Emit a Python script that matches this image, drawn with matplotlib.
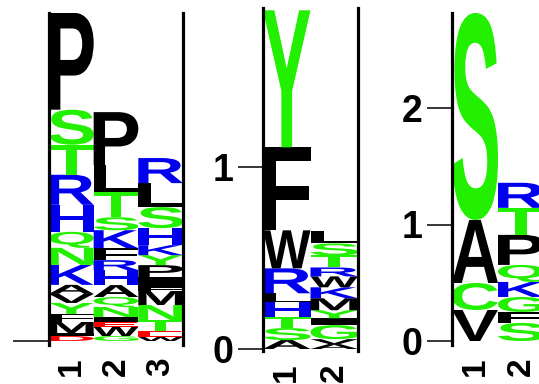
import matplotlib
matplotlib.use("Agg")
import matplotlib.pyplot as plt
from matplotlib.textpath import TextPath
from matplotlib.patches import PathPatch
from matplotlib.transforms import Affine2D
from matplotlib.font_manager import FontProperties

plt.rcParams['font.family'] = ['Liberation Sans', 'DejaVu Sans']
plt.rcParams['font.weight'] = 'bold'

# ---- data: letters (bottom -> top) and their heights, per position ----
p1_positions = ['1', '2', '3']
p1_letters = [
    ['D', 'I', 'M', 'F', 'Y', 'V', 'A', 'K', 'N', 'Q', 'H', 'R', 'T', 'S', 'P'],
    ['G', 'W', 'E', 'I', 'N', 'Q', 'A', 'H', 'R', 'F', 'K', 'S', 'T', 'L', 'P'],
    ['W', 'E', 'T', 'N', 'M', 'F', 'I', 'P', 'Y', 'K', 'H', 'S', 'L', 'R'],
]
p1_heights = [
    [0.043, 0.026, 0.095, 0.069, 0.095, 0.078, 0.078, 0.172, 0.147, 0.138, 0.233, 0.259, 0.259, 0.302, 0.836],
    [0.043, 0.078, 0.043, 0.043, 0.086, 0.086, 0.103, 0.129, 0.086, 0.103, 0.155, 0.112, 0.216, 0.233, 0.457],
    [0.034, 0.052, 0.095, 0.129, 0.121, 0.034, 0.086, 0.103, 0.086, 0.086, 0.147, 0.181, 0.207, 0.216],
]

p2_positions = ['1', '2']
p2_letters = [
    ['A', 'S', 'T', 'H', 'L', 'R', 'W', 'F', 'Y'],
    ['A', 'V', 'G', 'I', 'Y', 'M', 'K', 'W', 'R', 'T', 'S', 'L'],
]
p2_heights = [
    [0.049, 0.066, 0.060, 0.082, 0.049, 0.137, 0.209, 0.456, 0.753],
    [0.027, 0.027, 0.077, 0.038, 0.044, 0.066, 0.060, 0.060, 0.049, 0.066, 0.066, 0.071],
]

p3_positions = ['1', '2']
p3_letters = [
    ['V', 'C', 'A', 'S'],
    ['S', 'F', 'G', 'K', 'Q', 'P', 'T', 'R'],
]
p3_heights = [
    [0.266, 0.232, 0.541, 1.777],
    [0.155, 0.094, 0.129, 0.129, 0.146, 0.258, 0.232, 0.215],
]

# residue colours
GREEN, BLUE, RED, BLACK = '#22F000', '#0000EE', '#FF0000', '#000000'
colour_of = {}
for c in 'STYQNGC':
    colour_of[c] = GREEN
for c in 'KRH':
    colour_of[c] = BLUE
for c in 'DE':
    colour_of[c] = RED
for c in 'PLAVFWMI':
    colour_of[c] = BLACK

LOGO_FONT = FontProperties(family='Liberation Sans', weight='bold')


def draw_letter(ax, ch, x0, y0, w, h):
    tp = TextPath((0, 0), ch, size=1, prop=LOGO_FONT)
    bb = tp.get_extents()
    tr = Affine2D().translate(-bb.x0, -bb.y0).scale(w / bb.width, h / bb.height).translate(x0, y0)
    ax.add_patch(PathPatch(tr.transform_path(tp), fc=colour_of[ch], ec='none', lw=0))


def draw_logo(ax, letters, heights):
    for i, (col_l, col_h) in enumerate(zip(letters, heights)):
        y = 0.0
        for ch, h in zip(col_l, col_h):
            draw_letter(ax, ch, i + 0.5, y, 1.0, h)
            y += h


W, H = 539, 384
fig = plt.figure(figsize=(W / 100, H / 100), dpi=100)


def make_axes(left, right, top, bottom, baseline, px_per_unit, ncols):
    ax = fig.add_axes([left / W, 1 - bottom / H, (right - left) / W, (bottom - top) / H])
    ax.set_xlim(0.5, ncols + 0.5)
    ax.set_ylim(-(bottom - baseline) / px_per_unit, (baseline - top) / px_per_unit)
    for s in ('top', 'bottom'):
        ax.spines[s].set_visible(False)
    for s in ('left', 'right'):
        ax.spines[s].set_linewidth(2.3)
        ax.spines[s].set_color('black')
    ax.tick_params(axis='x', length=0, pad=9, labelsize=24)
    ax.tick_params(axis='y', length=18, width=1.1, pad=3, labelsize=27)
    return ax


# panel 1
ax1 = make_axes(49, 183, 13, 345, 341, 116.0, 3)
draw_logo(ax1, p1_letters, p1_heights)
ax1.set_xticks(range(1, 4), p1_positions, rotation=90)
ax1.set_yticks([0], [''])
ax1.tick_params(axis='y', length=26)

# panel 2
ax2 = make_axes(263, 358, 8, 351, 349, 182.0, 2)
draw_logo(ax2, p2_letters, p2_heights)
ax2.set_xticks(range(1, 3), p2_positions, rotation=90)
ax2.set_yticks([0, 1], ['0', '1'])

# panel 3 (cut off at the right edge)
ax3 = make_axes(452, 544, 13, 345, 341, 116.5, 2)
draw_logo(ax3, p3_letters, p3_heights)
ax3.set_xticks(range(1, 3), p3_positions, rotation=90)
ax3.set_yticks([0, 1, 2], ['0', '1', '2'])

fig.savefig('out.png', dpi=100)
